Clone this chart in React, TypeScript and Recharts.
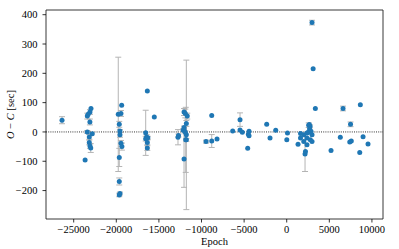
import React from 'react';
import { ScatterChart, Scatter, XAxis, YAxis, ErrorBar, ReferenceLine, ReferenceArea } from 'recharts';

// Epoch, O-C [sec], error [sec] (0 = no error bar drawn)
const epochs = [
  -26370,
  -22970, -23090, -23400, -23300, -23100, -23400, -23170, -22820, -23170, -23090, -23000, -23660,
  -19770, -19370, -19450, -19650, -19570, -19570, -19450, -19340, -19650, -19650, -19650, -19570,
  -16360, -15540, -16550, -16450, -16550, -16300, -16360, -16360,
  -11780, -12050, -11900, -11670, -11780, -12050, -12150, -12760, -12700, -12050, -11900, -11780, -11850, -12050,
  -8800, -9470, -8800, -8180,
  -5480, -6340, -5480, -5210, -4420, -4500, -4420, -4580,
  -2350, -1960, -1290, 90, 10,
  1330, 1620, 2000, 1620, 2000, 2380, 2380, 2680, 2770, 2970, 2970, 2380, 2150, 2200, 2580, 2740, 2650, 2970, 3100, 3360, 2500, 2850,
  5200, 6290, 6610, 7490, 7580, 7400, 8570, 8640, 8960, 9540,
];
const ocValues = [
  40,
  80, 68, 54, 60, 34, 0, -17, -6, -36, -48, -55, -96,
  60, 91, 63, 26, 3, -10, -39, -50, -87, -169, -215, -210,
  140, 51, -3, -17, -23, -20, -36, -55,
  -10, 68, 63, 54, 29, 15, 6, -18, -12, 7, -1, -27, -27, -92,
  56, -33, -31, -24,
  42, 3, 7, -1, 2, -8, -13, -56,
  26, -21, 6, -4, -27,
  -42, -5, -10, -21, -33, -4, -21, 10, -27, -10, -33, -44, -75, -67, 23, 19, 25, 373, 216, 80, -2, 2,
  -63, -18, 80, 26, -31, -34, -70, 93, -16, -41,
];
const errors = [
  12,
  0, 8, 10, 0, 10, 5, 8, 0, 8, 8, 15, 0,
  195, 0, 10, 10, 5, 8, 10, 12, 31, 12, 6, 5,
  0, 0, 77, 8, 8, 5, 8, 8,
  255, 12, 15, 10, 10, 5, 5, 26, 5, 5, 5, 5, 111, 97,
  0, 5, 22, 0,
  23, 0, 0, 0, 0, 0, 0, 0,
  0, 0, 0, 0, 0,
  0, 0, 0, 0, 0, 0, 0, 0, 0, 0, 0, 0, 60, 0, 8, 5, 0, 8, 0, 0, 0, 0,
  0, 0, 8, 8, 0, 0, 0, 0, 0, 0,
];

const xTicks = [-25000, -20000, -15000, -10000, -5000, 0, 5000, 10000];
const yTicks = [-200, -100, 0, 100, 200, 300, 400];
const xDomain: [number, number] = [-28250, 11300];
const yDomain: [number, number] = [-297, 416];

const allPoints = epochs.map((e, i) => ({ epoch: e, oc: ocValues[i], err: errors[i] }));
const withErr = allPoints.filter((p) => p.err > 0);
const noErr = allPoints.filter((p) => p.err === 0);

const FONT = '"Liberation Serif", "DejaVu Serif", serif';
const BLUE = '#1f77b4';

const fmt = (v: number) => (v < 0 ? '\u2212' + Math.abs(v) : String(v));

const Dot = (props: any) => <circle cx={props.cx} cy={props.cy} r={2.5} fill={BLUE} />;

export default function App() {
  const W = 399;
  const H = 249;
  return (
    <div style={{ position: 'absolute', left: 0, top: 0, width: W, height: H, background: '#fff' }}>
      <ScatterChart width={W} height={H} margin={{ top: 10, right: 16, bottom: 0, left: 0 }}>
        <XAxis
          type="number"
          dataKey="epoch"
          domain={xDomain}
          ticks={xTicks}
          allowDataOverflow
          tickFormatter={fmt}
          height={30}
          axisLine={false}
          tickSize={3.5}
          tickMargin={3}
          tickLine={{ stroke: '#000', strokeWidth: 0.8 }}
          tick={{ fill: '#000', fontSize: 10.5, fontFamily: FONT }}
        />
        <YAxis
          type="number"
          dataKey="oc"
          domain={yDomain}
          ticks={yTicks}
          allowDataOverflow
          tickFormatter={fmt}
          width={46}
          axisLine={false}
          tickSize={3.5}
          tickMargin={5}
          tickLine={{ stroke: '#000', strokeWidth: 0.8 }}
          tick={{ fill: '#000', fontSize: 10.5, fontFamily: FONT }}
        />
        <ReferenceLine y={0} stroke="#000" strokeWidth={0.8} strokeDasharray="1 1.2" />
        <Scatter data={withErr} shape={Dot} isAnimationActive={false}>
          <ErrorBar dataKey="err" direction="y" width={3} stroke="#b4b4b4" strokeWidth={1} />
        </Scatter>
        <Scatter data={noErr} shape={Dot} isAnimationActive={false} />
        <ReferenceArea
          x1={xDomain[0]}
          x2={xDomain[1]}
          y1={yDomain[0]}
          y2={yDomain[1]}
          fill="none"
          fillOpacity={0}
          stroke="#222"
          strokeWidth={0.9}
        />
      </ScatterChart>
      <svg
        width={W}
        height={H}
        style={{ position: 'absolute', left: 0, top: 0, pointerEvents: 'none' }}
      >
        <text x={214.5} y={245} textAnchor="middle" fontSize={10.5} fontFamily={FONT} fill="#000">
          Epoch
        </text>
        <text
          x={14}
          y={114.5}
          transform="rotate(-90, 14, 114.5)"
          textAnchor="middle"
          fontSize={10.5}
          fontFamily={FONT}
          fill="#000"
        >
          <tspan fontStyle="italic">O</tspan>
          <tspan> {'\u2212'} </tspan>
          <tspan fontStyle="italic">C</tspan>
          <tspan> [sec]</tspan>
        </text>
      </svg>
    </div>
  );
}
